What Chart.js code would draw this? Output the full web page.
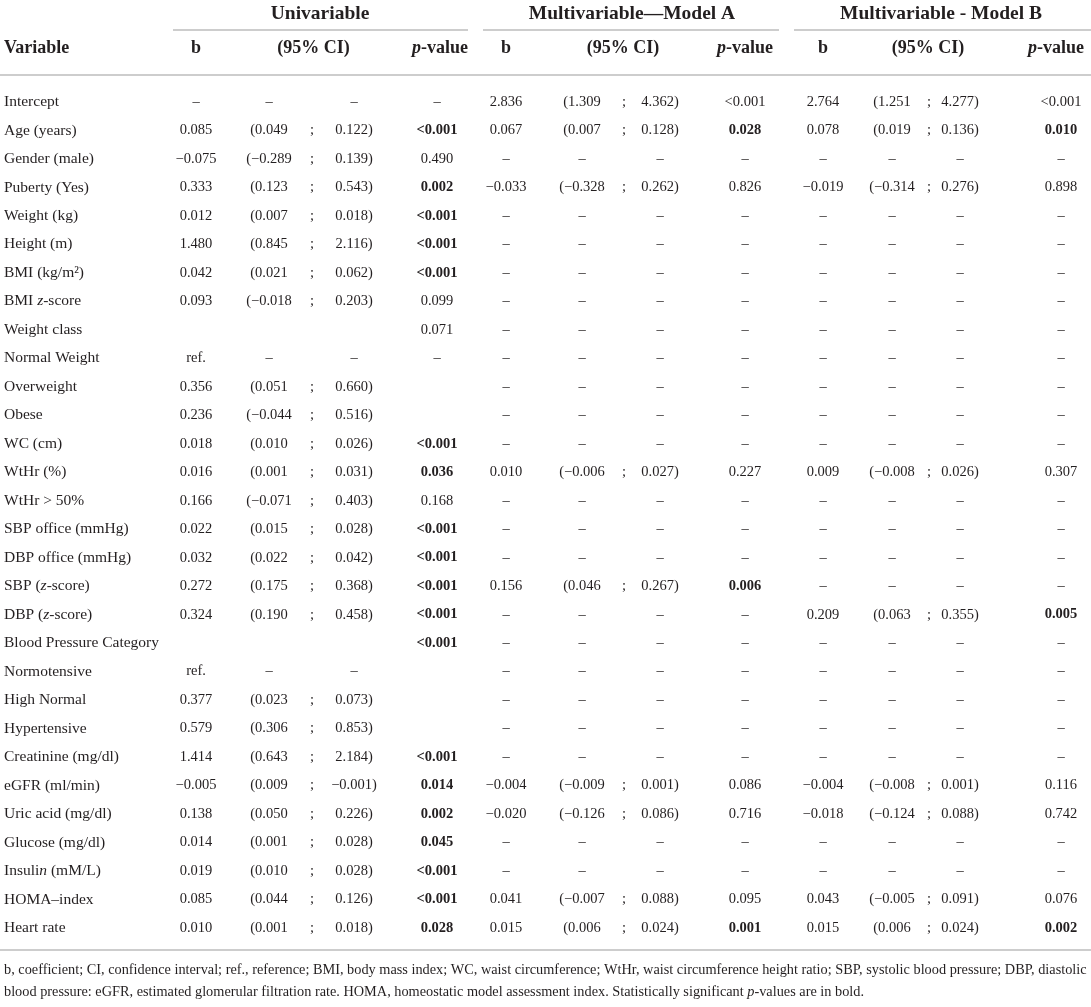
<!DOCTYPE html>
<html>
<head>
<meta charset="utf-8">
<title>Regression table</title>
<script src="https://cdn.jsdelivr.net/npm/chart.js@4.4.1/dist/chart.umd.min.js"></script>
<style>
  html, body { margin: 0; padding: 0; background: #fff; }
  #wrap { width: 1091px; height: 1007px; }
</style>
</head>
<body>
<div id="wrap"><canvas id="tableChart"></canvas></div>
<script>
// rows ( _x_ = italic part )
const variables = [
  "Intercept", "Age (years)", "Gender (male)", "Puberty (Yes)", "Weight (kg)", "Height (m)",
  "BMI (kg/m\u00b2)", "BMI _z_-score", "Weight class", "Normal Weight", "Overweight", "Obese",
  "WC (cm)", "WtHr (%)", "WtHr > 50%", "SBP office (mmHg)", "DBP office (mmHg)",
  "SBP (_z_-score)", "DBP (_z_-score)", "Blood Pressure Category", "Normotensive",
  "High Normal", "Hypertensive", "Creatinine (mg/dl)", "eGFR (ml/min)", "Uric acid (mg/dl)",
  "Glucose (mg/dl)", "Insuli_n_ (mM/L)", "HOMA\u2013index", "Heart rate"
];

const D = "\u2013"; // dash in empty cells

// Univariable
const uniB  = [D, "0.085", "\u22120.075", "0.333", "0.012", "1.480", "0.042", "0.093", "", "ref.", "0.356", "0.236",
  "0.018", "0.016", "0.166", "0.022", "0.032", "0.272", "0.324", "", "ref.", "0.377", "0.579",
  "1.414", "\u22120.005", "0.138", "0.014", "0.019", "0.085", "0.010"];
const uniLo = [D, "0.049", "\u22120.289", "0.123", "0.007", "0.845", "0.021", "\u22120.018", "", D, "0.051", "\u22120.044",
  "0.010", "0.001", "\u22120.071", "0.015", "0.022", "0.175", "0.190", "", D, "0.023", "0.306",
  "0.643", "0.009", "0.050", "0.001", "0.010", "0.044", "0.001"];
const uniHi = [D, "0.122", "0.139", "0.543", "0.018", "2.116", "0.062", "0.203", "", D, "0.660", "0.516",
  "0.026", "0.031", "0.403", "0.028", "0.042", "0.368", "0.458", "", D, "0.073", "0.853",
  "2.184", "\u22120.001", "0.226", "0.028", "0.028", "0.126", "0.018"];
const uniP  = [D, "<0.001", "0.490", "0.002", "<0.001", "<0.001", "<0.001", "0.099", "0.071", D, "", "",
  "<0.001", "0.036", "0.168", "<0.001", "<0.001", "<0.001", "<0.001", "<0.001", "", "", "",
  "<0.001", "0.014", "0.002", "0.045", "<0.001", "<0.001", "0.028"];

// Multivariable - Model A
const modAB  = ["2.836", "0.067", D, "\u22120.033", D, D, D, D, D, D, D, D,
  D, "0.010", D, D, D, "0.156", D, D, D, D, D,
  D, "\u22120.004", "\u22120.020", D, D, "0.041", "0.015"];
const modALo = ["1.309", "0.007", D, "\u22120.328", D, D, D, D, D, D, D, D,
  D, "\u22120.006", D, D, D, "0.046", D, D, D, D, D,
  D, "\u22120.009", "\u22120.126", D, D, "\u22120.007", "0.006"];
const modAHi = ["4.362", "0.128", D, "0.262", D, D, D, D, D, D, D, D,
  D, "0.027", D, D, D, "0.267", D, D, D, D, D,
  D, "0.001", "0.086", D, D, "0.088", "0.024"];
const modAP  = ["<0.001", "0.028", D, "0.826", D, D, D, D, D, D, D, D,
  D, "0.227", D, D, D, "0.006", D, D, D, D, D,
  D, "0.086", "0.716", D, D, "0.095", "0.001"];

// Multivariable - Model B
const modBB  = ["2.764", "0.078", D, "\u22120.019", D, D, D, D, D, D, D, D,
  D, "0.009", D, D, D, D, "0.209", D, D, D, D,
  D, "\u22120.004", "\u22120.018", D, D, "0.043", "0.015"];
const modBLo = ["1.251", "0.019", D, "\u22120.314", D, D, D, D, D, D, D, D,
  D, "\u22120.008", D, D, D, D, "0.063", D, D, D, D,
  D, "\u22120.008", "\u22120.124", D, D, "\u22120.005", "0.006"];
const modBHi = ["4.277", "0.136", D, "0.276", D, D, D, D, D, D, D, D,
  D, "0.026", D, D, D, D, "0.355", D, D, D, D,
  D, "0.001", "0.088", D, D, "0.091", "0.024"];
const modBP  = ["<0.001", "0.010", D, "0.898", D, D, D, D, D, D, D, D,
  D, "0.307", D, D, D, D, "0.005", D, D, D, D,
  D, "0.116", "0.742", D, D, "0.076", "0.002"];

const groupTitles = ["Univariable", "Multivariable\u2014Model A", "Multivariable - Model B"];
const colHeads = ["b", "(95% CI)", "_p_-value"];
const footnote = [
  "b, coefficient; CI, confidence interval; ref., reference; BMI, body mass index; WC, waist circumference; WtHr, waist circumference height ratio; SBP, systolic blood pressure; DBP, diastolic",
  "blood pressure: eGFR, estimated glomerular filtration rate. HOMA, homeostatic model assessment index. Statistically significant _p_-values are in bold."
];

// layout
const W = 1091, H = 1007;
const FONT = '"Liberation Serif", "DejaVu Serif", serif';
const INK = "#231f20";
const RULE = "#cdcdcd";
const groups = [
  { b: 196, lo: 269, sep: 312, hi: 354, p: 437, headP: 440, title: 320, from: 173, to: 468 },
  { b: 506, lo: 582, sep: 624, hi: 660, p: 745, headP: 745, title: 632, from: 483, to: 779 },
  { b: 823, lo: 892, sep: 929, hi: 960, p: 1061, headP: 1056, title: 941, from: 794, to: 1091 }
];
const firstRowY = 102, lastRowY = 928;
const rowStep = (lastRowY - firstRowY) / (variables.length - 1);

const isNum = s => /\d/.test(s);
const sig = (p, i) => variables[i] !== "Intercept" && isNum(p) &&
  (p.startsWith("<") || parseFloat(p) < 0.05);

function drawRich(ctx, text, x, y, align, size, bold) {
  const parts = text.split("_");
  const segs = parts.map((t, k) => ({
    t, font: (k % 2 ? "italic " : "") + (bold ? "bold " : "") + size + "px " + FONT
  }));
  let total = 0;
  segs.forEach(s => { ctx.font = s.font; s.w = ctx.measureText(s.t).width; total += s.w; });
  let cx = align === "center" ? x - total / 2 : align === "right" ? x - total : x;
  ctx.textAlign = "left";
  ctx.textBaseline = "middle";
  ctx.fillStyle = INK;
  segs.forEach(s => { ctx.font = s.font; ctx.fillText(s.t, cx, y); cx += s.w; });
}

function colDataset(values, x, align, size, fmt, boldFn) {
  return {
    align, size,
    data: values.map((v, i) => ({ x, y: i, text: fmt ? fmt(v, i) : v, bold: boldFn ? boldFn(v, i) : false })),
    pointRadius: 0, pointHoverRadius: 0, showLine: false
  };
}

const datasets = [colDataset(variables, 4, "left", 15.5)];
[[uniB, uniLo, uniHi, uniP], [modAB, modALo, modAHi, modAP], [modBB, modBLo, modBHi, modBP]]
  .forEach(([b, lo, hi, p], g) => {
    const c = groups[g];
    datasets.push(colDataset(b, c.b, "center", 14.5));
    datasets.push(colDataset(lo, c.lo, "center", 14.5, v => isNum(v) ? "(" + v : v));
    datasets.push(colDataset(lo, c.sep, "center", 14.5, v => isNum(v) ? ";" : ""));
    datasets.push(colDataset(hi, c.hi, "center", 14.5, v => isNum(v) ? v + ")" : v));
    datasets.push(colDataset(p, c.p, "center", 14.5, null, sig));
  });

const tableText = {
  id: "tableText",
  beforeDraw(chart) {
    const ctx = chart.ctx;
    ctx.save();
    ctx.fillStyle = "#fff";
    ctx.fillRect(0, 0, W, H);
    ctx.restore();
  },
  afterDatasetsDraw(chart) {
    const ctx = chart.ctx;
    const ys = chart.scales.y;
    ctx.save();
    chart.data.datasets.forEach((ds, i) => {
      chart.getDatasetMeta(i).data.forEach((pt, j) => {
        const raw = ds.data[j];
        if (raw.text) drawRich(ctx, raw.text, pt.x, pt.y, ds.align, ds.size, raw.bold);
      });
    });

    // header block
    const titleY = 14, underY = 30, headY = 48;
    const headRule = ys.getPixelForValue(0) - 27;
    const footRule = ys.getPixelForValue(variables.length - 1) + 22;
    ctx.strokeStyle = RULE;
    ctx.lineWidth = 2;
    groups.forEach((c, g) => {
      drawRich(ctx, groupTitles[g], c.title, titleY, "center", 19.5, true);
      drawRich(ctx, colHeads[0], c.b, headY, "center", 18, true);
      drawRich(ctx, colHeads[1], (c.lo + c.hi) / 2 + 2, headY, "center", 18, true);
      drawRich(ctx, colHeads[2], c.headP, headY, "center", 18, true);
      ctx.beginPath();
      ctx.moveTo(c.from, underY);
      ctx.lineTo(c.to, underY);
      ctx.stroke();
    });
    drawRich(ctx, "Variable", 4, headY, "left", 18, true);
    [headRule, footRule].forEach(y => {
      ctx.beginPath();
      ctx.moveTo(0, y);
      ctx.lineTo(W, y);
      ctx.stroke();
    });

    // footnote, sized so the first line fills the width
    ctx.font = "13px " + FONT;
    const fs = 13 * (W - 8) / ctx.measureText(footnote[0]).width;
    drawRich(ctx, footnote[0], 4, footRule + 20, "left", fs, false);
    drawRich(ctx, footnote[1], 4, footRule + 42, "left", fs, false);
    ctx.restore();
  }
};

const canvas = document.getElementById("tableChart");
canvas.style.width = W + "px";
canvas.style.height = H + "px";

new Chart(canvas, {
  type: "scatter",
  data: { labels: variables, datasets },
  options: {
    responsive: false,
    animation: false,
    events: [],
    layout: {
      padding: {
        left: 0, right: 0,
        top: firstRowY - rowStep / 2,
        bottom: H - (lastRowY + rowStep / 2)
      }
    },
    plugins: { legend: { display: false }, tooltip: { enabled: false } },
    scales: {
      x: { type: "linear", min: 0, max: W, display: false },
      y: { type: "category", labels: variables, offset: true, display: false }
    }
  },
  plugins: [tableText]
});
</script>
</body>
</html>
